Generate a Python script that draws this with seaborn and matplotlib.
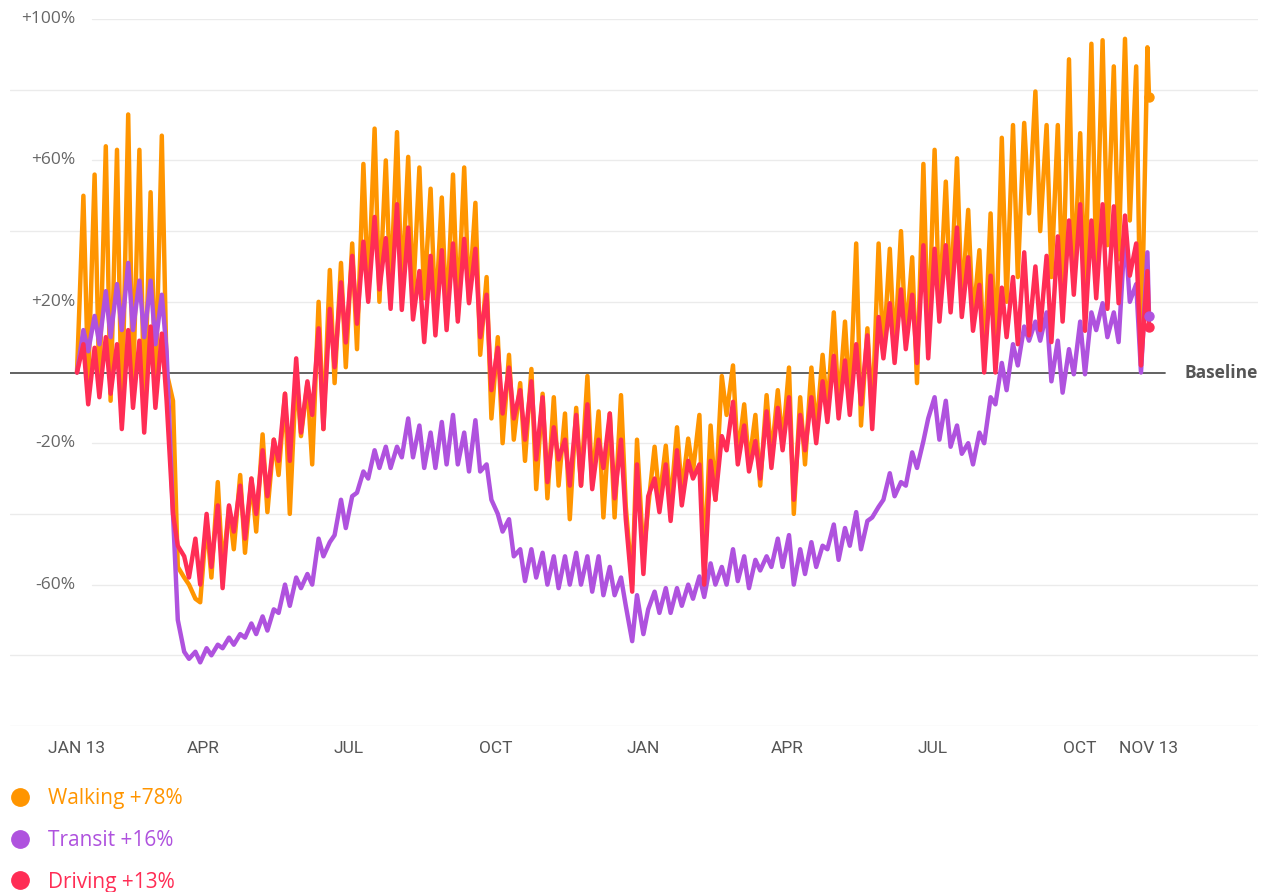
import matplotlib.pyplot as plt
import matplotlib.dates as mdates
import matplotlib.transforms as mtransforms
import pandas as pd
import seaborn as sns
from matplotlib.lines import Line2D

sns.set_theme(style='white')
plt.rcParams['font.family'] = ['Open Sans', 'DejaVu Sans']

# --- data: one value per week, Monday dip and Friday peak, % change vs baseline ---
first_monday = '2020-01-13'
last_day = '2021-11-13'
n_weeks = 96

walk_mon = [0, -3, -5, -8, -14, -5, -12, -6,
            0, -55, -60, -65, -58, -56, -50, -51,
            -45, -39.5, -29, -40, -18, -26, -16, -3,
            1.5, 6.6, 21, 20, 22, 22, 21, 21,
            15, 14, 16, 20, 5, -13, -20, -19,
            -25, -33, -35.6, -32, -41.5, -32, -32, -41,
            -41, -38, -19, -38, -36, -38, -34, -28,
            -55, -36, -12, -24, -26, -32, -24, -20,
            -40, -26, -17, -11, -10, -9, -15, -13,
            5, 5, 9, -3, 7, 17, 20, 19,
            14.4, 3, 3, 20, 27, 45, 40, 27,
            21, 25, 21, 30, 36, 32, 43, 2]
walk_fri = [50, 56, 64, 63, 73, 63, 51, 67,
            -8, -58, -64, -42, -31, -38, -29, -30,
            -17.5, -19, -6, 0, -3, 20, 29, 31,
            36.5, 59, 69, 60, 68, 61, 58, 52,
            49.5, 56, 58, 48, 27, 10, 5, -3,
            1, -6, -7, -11.6, -10, -1, -11, -11.6,
            -6.4, -60, -52, -21, -20.7, -15.5, -18.7, -12,
            -15, -1, 2, -9, -12, -6.4, -5, 1.4,
            -7, 1.4, 5, 17, 14.4, 36.5, 12.5, 36.5,
            35, 40, 32.6, 59, 63, 54, 60.6, 46,
            34.6, 45, 66.4, 70, 70.6, 79.5, 70, 70,
            88.6, 67.7, 93, 94, 86.6, 94.4, 86.6, 92]

transit_mon = [0, 6, 8, 10, 12, 12, 10, 8,
               6, -70, -81, -82, -80, -78, -77, -75,
               -74, -73, -68, -66, -61, -60, -52, -46,
               -44, -34, -30, -27, -27, -24, -24, -27,
               -27, -26, -26, -28, -28, -36, -45, -52,
               -59, -58, -60, -61, -60, -60, -62, -63,
               -63, -66, -63, -67, -68, -68, -66, -64,
               -63.5, -60, -60, -59, -61, -56, -55, -55,
               -60, -57, -55, -50, -53, -49, -50, -41,
               -36, -35, -32, -27, -13, -19, -21, -23,
               -26, -20, -9, -5, 2, 9, 9, -2.5,
               -5.7, -0.5, -0.5, 12, 10, 8.6, 20, 0]
transit_fri = [12, 16, 23, 25, 31, 26, 26, 22,
               -40, -79, -79, -78, -77, -75, -74, -71,
               -69, -67, -60, -58, -57, -47, -48, -36,
               -35, -28, -22, -21, -21, -13, -15, -17,
               -14, -12, -17, -13.5, -26, -40, -41.5, -50,
               -50, -51, -52, -52, -51, -52, -52, -55,
               -58, -76, -74, -62, -61, -61, -60, -57.7,
               -54, -55, -50, -52, -53, -52, -47, -46,
               -50, -48, -49, -43, -44, -39.5, -42, -38,
               -28.5, -31, -22.6, -19.4, -7, -8, -15, -20,
               -17, -7, 2.7, 8, 13, 14.4, 17, 9,
               6.6, 14.4, 17, 19.6, 17, 40, 25, 34]

drive_mon = [0, -9, -7, -6, -16, -10, -17, -10,
             -8, -49, -58, -60, -55, -61, -45, -47,
             -40, -35, -25, -25, -17, -12, -16, 1.5,
             8.5, 13.8, 20, 23.5, 18, 17.7, 15, 8.6,
             10.5, 12, 14.4, 19.6, 10, -5, -11.6, -13,
             -19, -24.6, -31, -24.6, -32, -32, -33, -27,
             -35.6, -41.5, -26, -35, -39.5, -42, -37.6, -30,
             -60, -36, -22, -26, -28, -30, -27, -22,
             -36, -22, -20, -14, -13, -12, -9, -16,
             4, 2.7, 6.6, 2.7, 4, 14.4, 17, 15.7,
             11.8, 0, 0, 10, 8, 10.5, 12, 8.6,
             14.4, 22, 11.8, 21, 18, 19.6, 27.4, 2]
drive_fri = [8, 7, 10, 8, 12, 9, 13, 11,
             -40, -52, -47, -40, -37.6, -37.6, -32, -30,
             -22, -19, -6, 4, -2.5, 12.5, 18, 25.5,
             33, 37, 44, 38, 47.6, 41, 28.7, 33,
             34.6, 36.5, 37.8, 35, 22, 7, 1.4, -5,
             -2.5, -7, -15.5, -19, -12, -9, -19, -11.6,
             -19, -62, -57, -30, -26, -22, -25, -26,
             -25, -18, -8.3, -15, -19.4, -11, -10, -7,
             -12, -7, -2.5, 4.7, 3.4, 8, 10.5, 15.7,
             19.6, 23.5, 22, 36, 35, 36, 41, 32.6,
             24.8, 27.4, 24, 27, 34, 30, 33, 38.5,
             43, 47.6, 43, 47.6, 47, 44.4, 36.5, 28.7]

walk_end, transit_end, drive_end = 78, 16, 13

modes = ['Walking', 'Transit', 'Driving']
colors = {'Walking': '#FF9500', 'Transit': '#AF52DE', 'Driving': '#FF2D55'}

tick_dates = ['2020-01-13', '2020-04-01', '2020-07-01', '2020-10-01', '2021-01-01',
              '2021-04-01', '2021-07-01', '2021-10-01', '2021-11-13']
tick_labels = ['JAN 13', 'APR', 'JUL', 'OCT', 'JAN', 'APR', 'JUL', 'OCT', 'NOV 13']
grid_levels = [100, 80, 60, 40, 20, -20, -40, -60, -80, -100]
label_levels = [100, 60, 20, -20, -60]

# --- long table ---
mondays = pd.date_range(first_monday, periods=n_weeks, freq='7D')
fridays = mondays + pd.Timedelta(days=4)
frames = []
for mode, mon, fri, end in [('Walking', walk_mon, walk_fri, walk_end),
                            ('Transit', transit_mon, transit_fri, transit_end),
                            ('Driving', drive_mon, drive_fri, drive_end)]:
    d = pd.DataFrame({'date': list(mondays) + list(fridays) + [pd.Timestamp(last_day)],
                      'value': list(mon) + list(fri) + [end]})
    d['mode'] = mode
    frames.append(d.sort_values('date'))
df = pd.concat(frames, ignore_index=True)

# --- figure ---
W, H = 1268, 892
fig = plt.figure(figsize=(W / 100, H / 100), dpi=100)
ax = fig.add_axes([10 / W, 1 - 726 / H, 1248 / W, 707 / H])

x0 = mdates.date2num(pd.Timestamp(first_monday))
ax.set_xlim(x0 - 67 / 1.6, x0 + (1258 - 77) / 1.6)
ax.set_ylim(-100, 100)

for lvl in grid_levels:
    start = 82 / 1248 if lvl in label_levels else 0
    ax.axhline(lvl, xmin=start, xmax=1, color='#ebebeb', lw=1, zorder=0)
ax.axhline(0, xmin=0, xmax=(1165 - 10) / 1248, color='#555555', lw=1.3, zorder=1)

sns.lineplot(data=df, x='date', y='value', hue='mode', hue_order=modes,
             palette=colors, estimator=None, linewidth=3.2, legend=False, ax=ax)

last = df.groupby('mode').tail(1)
for _, row in last.iterrows():
    ax.scatter(row['date'], row['value'], s=42, color=colors[row['mode']], zorder=5)

trans = mtransforms.blended_transform_factory(ax.transAxes, ax.transData)
for lvl in label_levels:
    ax.text(65 / 1248, lvl, f'{lvl:+d}%', transform=trans, ha='right', va='center',
            fontsize=12.5, color='#666666')
ax.text((1185 - 10) / 1248, 0, 'Baseline', transform=trans, ha='left', va='center',
        fontsize=12.5, fontweight='bold', color='#555555')

ax.set_xticks(mdates.date2num(pd.to_datetime(tick_dates)))
ax.set_xticklabels(tick_labels, fontsize=12.5, color='#555555', family=['Roboto', 'DejaVu Sans'])
ax.tick_params(axis='x', length=0, pad=11)
ax.set_yticks([])
ax.set_xlabel('')
ax.set_ylabel('')
for s in ax.spines.values():
    s.set_visible(False)

# --- legend below the plot ---
ends = {'Walking': walk_end, 'Transit': transit_end, 'Driving': drive_end}
handles = [Line2D([], [], marker='o', linestyle='', markersize=12.5, color=colors[m]) for m in modes]
labels = [f'{m} {ends[m]:+d}%' for m in modes]
leg = fig.legend(handles, labels, loc='upper left', bbox_to_anchor=(10 / W, 1 - 788 / H),
                 frameon=False, fontsize=15, handlelength=1.0, handletextpad=0.8,
                 labelspacing=1.0, borderpad=0, borderaxespad=0)
for txt, m in zip(leg.get_texts(), modes):
    txt.set_color(colors[m])

fig.savefig('out.png', dpi=100)
